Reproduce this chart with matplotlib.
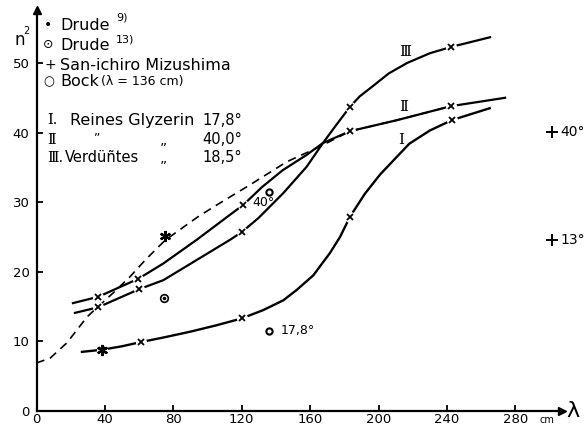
import matplotlib.pyplot as plt

W, H = 588, 429

# curve I: reines Glyzerin 17,8 deg
lam_1 = [26.6, 38.3, 50, 61, 75, 90, 105, 120, 132.6, 144.3, 152.2, 161.9, 171.6, 177.5, 183.3,
         192, 201, 218, 230, 243, 265]
n2_1 = [8.5, 8.8, 9.3, 9.9, 10.6, 11.4, 12.3, 13.3, 14.5, 15.9, 17.4, 19.5, 22.7, 25.0, 27.9,
        31.2, 34.0, 38.4, 40.3, 41.8, 43.5]

# curve II: reines Glyzerin 40,0 deg
lam_2 = [21.3, 36, 59.6, 74.2, 93.7, 113.2, 120.9, 132, 144, 158, 167.5, 183.3, 211, 242.4, 274]
n2_2 = [15.5, 16.4, 19.0, 21.2, 24.6, 28.2, 29.6, 32.2, 34.6, 36.8, 38.5, 40.2, 41.8, 43.8, 45.0]

# curve III: verduenntes 18,5 deg
lam_3 = [22.5, 36, 60, 74.2, 93.7, 113.2, 120, 129.7, 144.3, 158, 167.5, 175, 183.3, 189, 196.8,
         206, 216.7, 230, 242.4, 265.2]
n2_3 = [14.1, 14.9, 17.5, 18.8, 21.7, 24.6, 25.7, 27.7, 31.3, 35.1, 38.5, 41.0, 43.7, 45.2, 46.7,
        48.5, 50.0, 51.4, 52.3, 53.7]

# Drude, dashed
lam_d = [0, 8, 17.8, 29.5, 36, 45, 54.7, 64.4, 75.1, 85.8, 95, 105.4, 124.9, 146.3, 165.8, 183.3,
         211, 242.4]
n2_d = [6.9, 7.6, 9.8, 13.5, 15.0, 17.0, 19.3, 21.9, 24.5, 26.4, 28.0, 29.6, 32.5, 35.8, 38.0, 40.2,
        41.8, 43.8]

# measured points (San-ichiro Mizushima)
mz_lam_1 = [38.3, 61, 120, 183.3, 243]
mz_n2_1 = [8.8, 9.9, 13.3, 27.9, 41.8]
mz_lam_2 = [36, 59.6, 120.9, 183.3, 242.4]
mz_n2_2 = [16.4, 19.0, 29.6, 40.2, 43.8]
mz_lam_3 = [36, 60, 120, 183.3, 242.4]
mz_n2_3 = [14.9, 17.5, 25.7, 43.7, 52.3]
mz_static_lam = [301.5, 301.5]
mz_static_n2 = [40.1, 24.6]
mz_static_txt = ["40°", "13°"]

drude9_lam = [38.3, 75.1]
drude9_n2 = [8.8, 25.1]
drude13_lam = [74.6]
drude13_n2 = [16.2]
bock_lam = [136, 136]
bock_n2 = [31.5, 11.5]

xticks = [0, 40, 80, 120, 160, 200, 240, 280]
yticks = [0, 10, 20, 30, 40, 50]

fig = plt.figure(figsize=(W / 100, H / 100), dpi=100)
x0, y0 = 36.5, 411
sx, sy = 1.71, 6.96
ax = fig.add_axes([x0 / W, (H - y0) / H, 1 - x0 / W, y0 / H])
ax.set_xlim(0, (W - x0) / sx)
ax.set_ylim(0, y0 / sy)
ax.patch.set_visible(False)

for s in ["top", "right"]:
    ax.spines[s].set_visible(False)
for s in ["left", "bottom"]:
    ax.spines[s].set_linewidth(1.6)
ytop = (y0 - 10) / sy
xend = (562 - x0) / sx
ax.spines["left"].set_bounds(0, ytop)
ax.spines["bottom"].set_bounds(0, xend)
ax.plot([0], [ytop], marker="^", ms=6, color="k", clip_on=False)
ax.plot([xend], [0], marker=">", ms=6, color="k", clip_on=False)

ax.set_xticks(xticks)
ax.set_yticks(yticks)
ax.tick_params(direction="in", length=4, width=1.3, labelsize=9.5, color="k")
ax.tick_params(axis="x", pad=1.5)
ax.tick_params(axis="y", pad=5)

# curves
ax.plot(lam_d, n2_d, color="k", lw=1.2, ls=(0, (5, 3.5)), zorder=2)
ax.plot(lam_1, n2_1, color="k", lw=1.7, zorder=2)
ax.plot(lam_2, n2_2, color="k", lw=1.6, zorder=2)
ax.plot(lam_3, n2_3, color="k", lw=1.6, zorder=2)

for lx, ly in [(mz_lam_1, mz_n2_1), (mz_lam_2, mz_n2_2), (mz_lam_3, mz_n2_3)]:
    ax.plot(lx, ly, ls="none", marker="o", ms=8, mfc="white", mec="none", zorder=3)
    ax.plot(lx, ly, ls="none", marker="x", ms=4.5, mew=1.3, color="k", zorder=4)

ax.plot(mz_static_lam, mz_static_n2, ls="none", marker="+", ms=9, mew=1.4, color="k", clip_on=False)
for lx, ly, t in zip(mz_static_lam, mz_static_n2, mz_static_txt):
    ax.text(lx + 5, ly, t, fontsize=10, va="center", ha="left", clip_on=False)

ax.plot(drude9_lam, drude9_n2, ls="none", marker=(6, 2, 0), ms=8, mew=1.6, color="k", zorder=5)
ax.plot(drude13_lam, drude13_n2, ls="none", marker="o", ms=5.5, mfc="white", mec="k", mew=1.2, zorder=5)
ax.plot(drude13_lam, drude13_n2, ls="none", marker="o", ms=1.5, color="k", zorder=6)
ax.plot(bock_lam, bock_n2, ls="none", marker="o", ms=4.5, mfc="white", mec="k", mew=1.5, zorder=5)

# labels on the curves
ax.text(215.5, 51.6, "Ⅲ", fontsize=11, ha="center", va="center", family="DejaVu Serif")
ax.text(214.5, 43.7, "Ⅱ", fontsize=11, ha="center", va="center", family="DejaVu Serif")
ax.text(213, 39.0, "Ⅰ", fontsize=11, ha="center", va="center", family="DejaVu Serif")
ax.text(143, 11.6, "17,8°", fontsize=9, ha="left", va="center")
ax.text(126, 30.0, "40°", fontsize=9, ha="left", va="center")


def put(x, y, s, **kw):
    fig.text(x / W, 1 - y / H, s, va="center", **kw)


# axis names
put(14, 40, "n", fontsize=12)
put(23, 31, "2", fontsize=7)
put(566, 411, "λ", fontsize=16)
put(539, 420, "cm", fontsize=7)

# key in the upper left corner
fs = 11.5
put(44, 25, "•", fontsize=10)
put(60, 26, "Drude", fontsize=fs)
put(116, 18, "9)", fontsize=8)
put(43, 45, "⊙", fontsize=9)
put(60, 46, "Drude", fontsize=fs)
put(116, 39, "13)", fontsize=8)
put(44, 65, "+", fontsize=10)
put(60, 66, "San-ichiro Mizushima", fontsize=fs)
put(43, 82, "○", fontsize=9)
put(60, 82, "Bock", fontsize=fs)
put(101, 82, "(λ = 136 cm)", fontsize=9)

put(47, 120, "Ⅰ.", fontsize=10.5, family="DejaVu Serif")
put(70, 120, "Reines Glyzerin", fontsize=fs)
put(202, 120, "17,8°", fontsize=10.5)
put(47, 140, "Ⅱ", fontsize=10.5, family="DejaVu Serif")
put(94, 138, "\u201d", fontsize=9)
put(160, 140, "„", fontsize=10)
put(202, 140, "40,0°", fontsize=10.5)
put(47, 158, "Ⅲ.", fontsize=10.5, family="DejaVu Serif")
put(65, 158, "Verdüñtes", fontsize=10.5)
put(160, 158, "„", fontsize=10)
put(202, 158, "18,5°", fontsize=10.5)

fig.savefig("out.png", dpi=100)
